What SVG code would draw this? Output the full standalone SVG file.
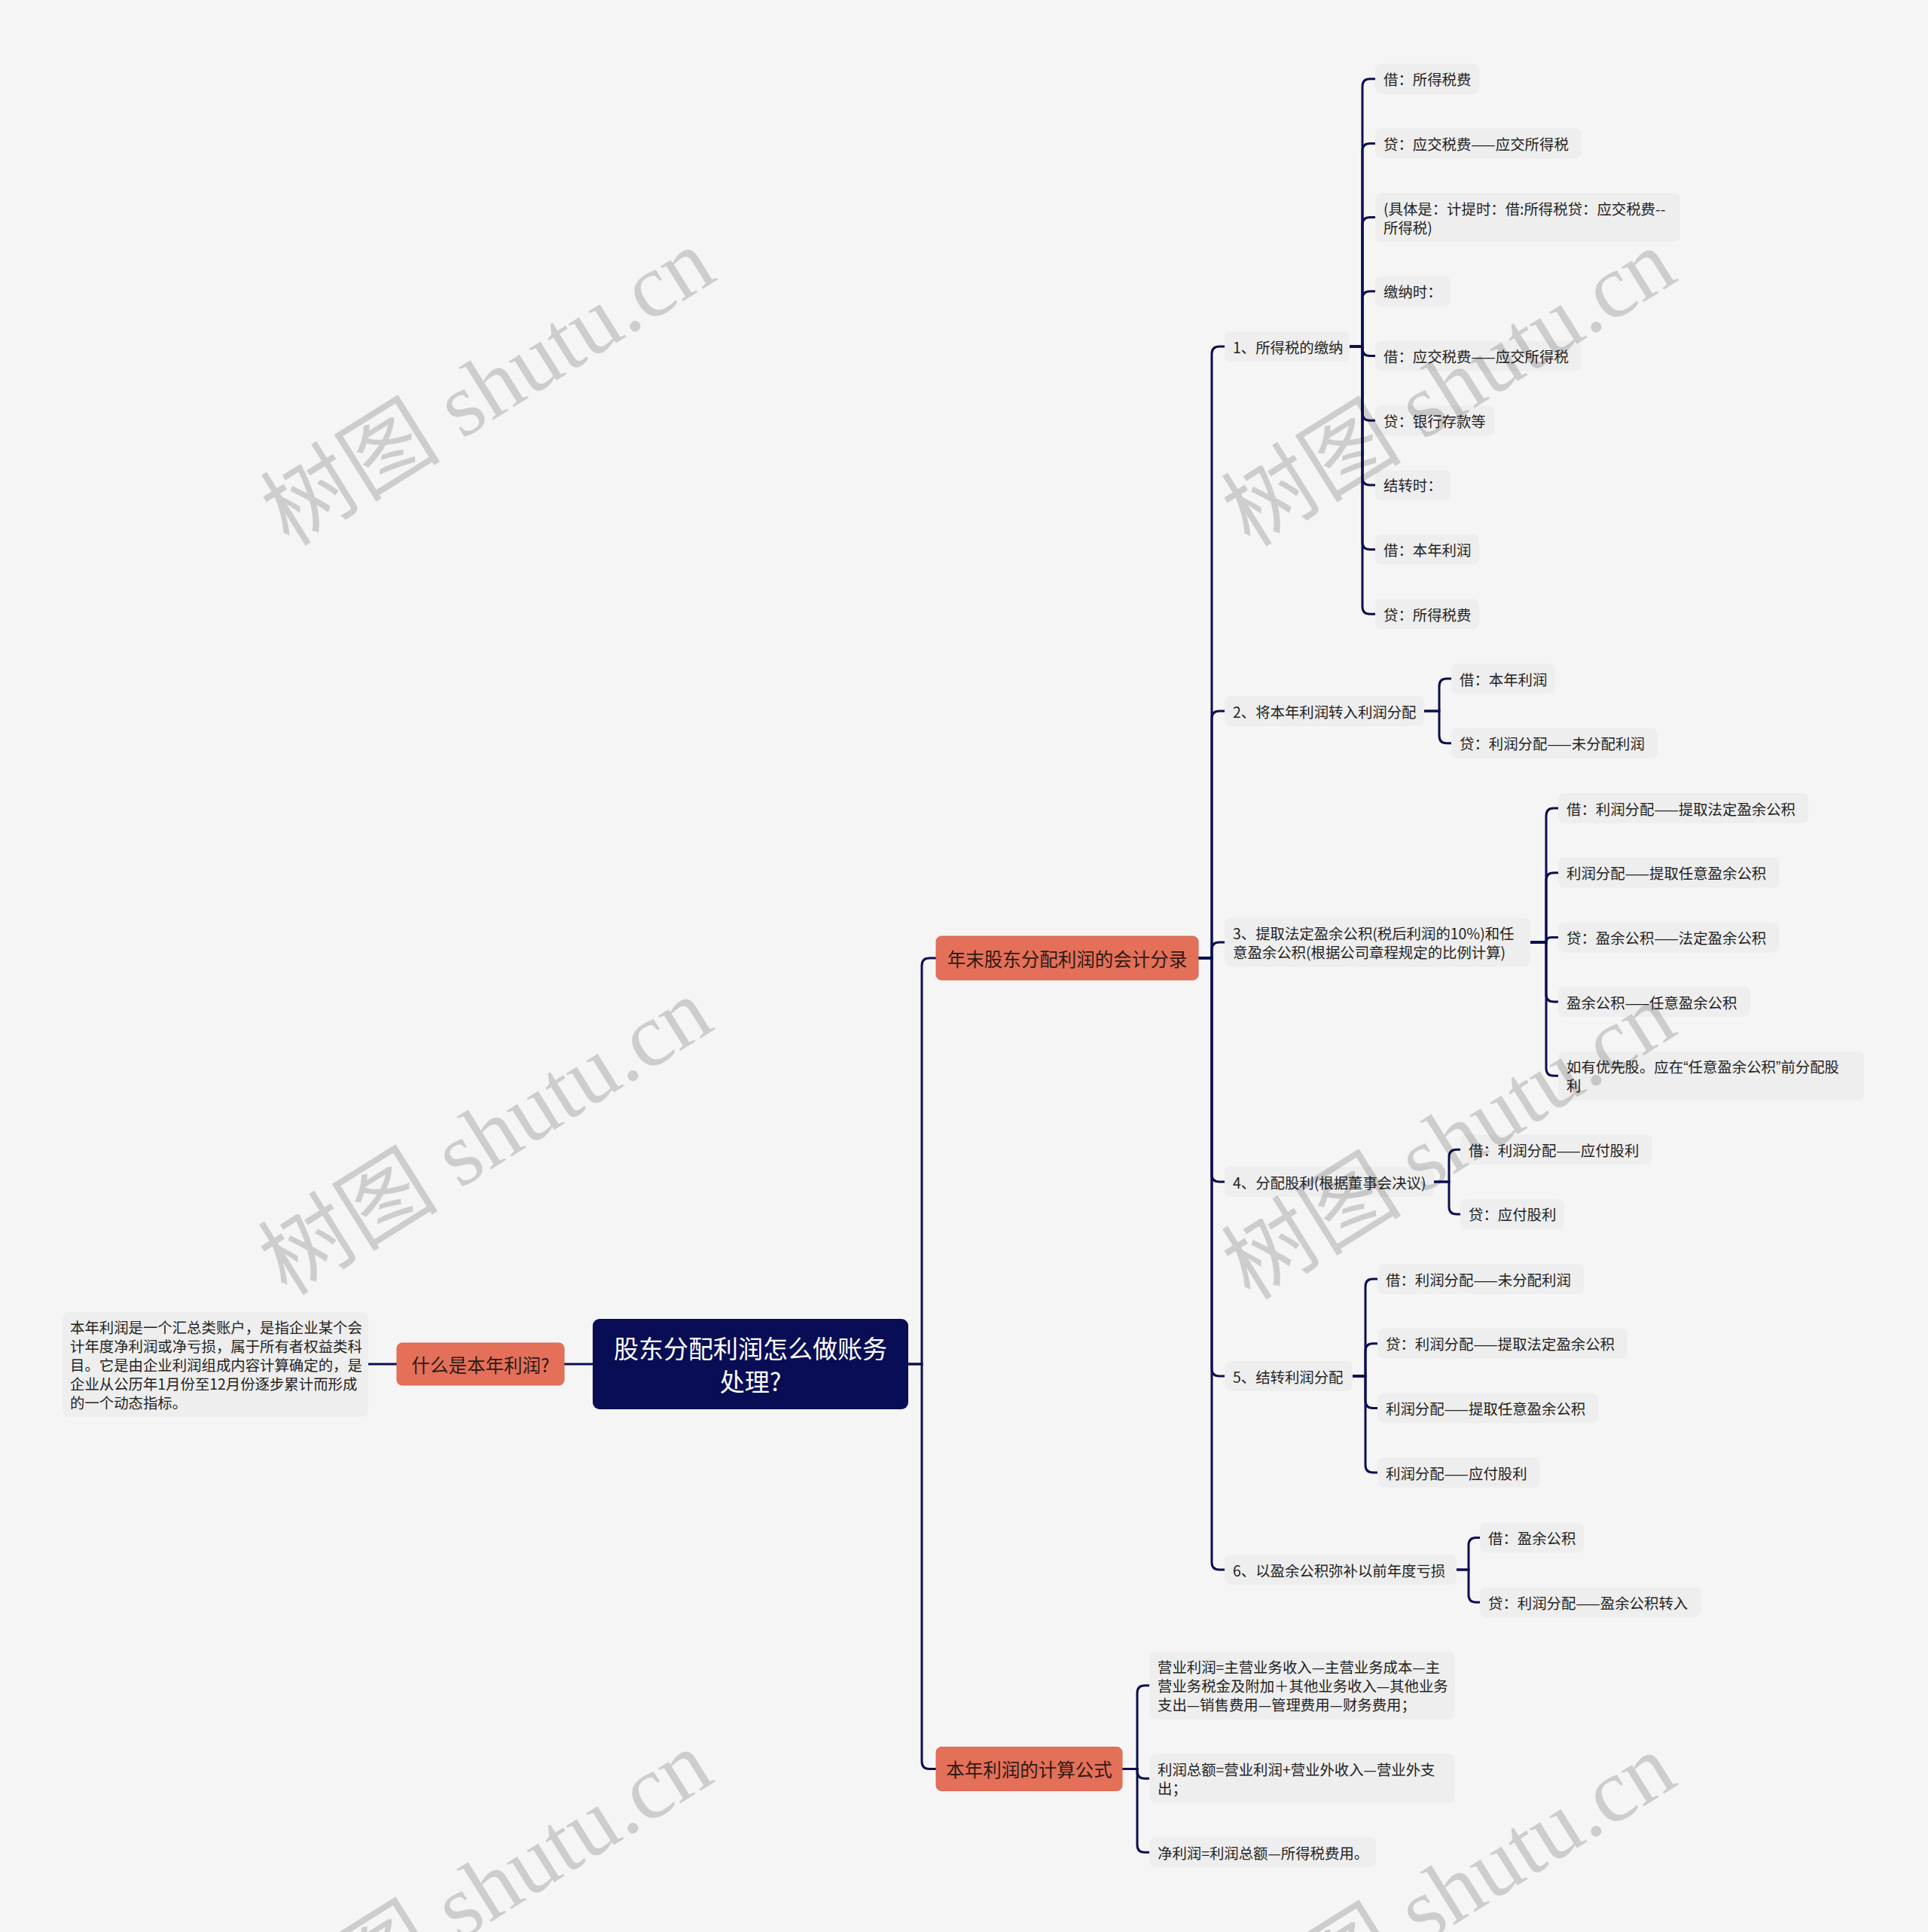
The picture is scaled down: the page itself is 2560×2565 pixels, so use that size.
<svg xmlns="http://www.w3.org/2000/svg" width="2560" height="2565" viewBox="0 0 2560 2565">
<defs>
<style>
.bg{fill:#f5f5f5}
.leaf rect{fill:#eeeeee}
.leaf text,.l2 text{font-family:"Noto Sans CJK SC","Noto Sans",sans-serif;font-size:19.4px;fill:#222222;dominant-baseline:central}
.l2 rect{fill:#eeeeee}
.main rect{fill:#e4705a;stroke:#d8654f;stroke-width:1}
.main text{font-family:"Noto Sans CJK SC","Noto Sans",sans-serif;font-size:24.5px;fill:#2e1a15;dominant-baseline:central;text-anchor:middle}
.root rect{fill:#080d55}
.root text{font-family:"Noto Sans CJK SC","Noto Sans",sans-serif;font-size:33px;fill:#ffffff;dominant-baseline:central;text-anchor:middle}
.c path{fill:none;stroke:#0b0f4f;stroke-width:3;stroke-linecap:round}
.q{font-family:"Liberation Sans",sans-serif}
.wm text{font-family:"Liberation Serif","Noto Sans CJK SC",serif;font-size:120px;fill:#000000;fill-opacity:0.16;text-anchor:middle;dominant-baseline:central}
</style>
</defs>
<rect class="bg" x="0" y="0" width="2560" height="2565"/>

<g id="connectors" class="c">
<path d="M1206,1811 H1224 V1282 Q1224,1272 1234,1272 H1243"/>
<path d="M1206,1811 H1224 V2338.5 Q1224,2348.5 1234,2348.5 H1243"/>
<path d="M787,1811 H749"/>
<path d="M527,1811 H489"/>
<path d="M1591,1272 H1609 V470 Q1609,460 1619,460 H1626"/>
<path d="M1591,1272 H1609 V954 Q1609,944 1619,944 H1626"/>
<path d="M1591,1272 H1609 V1261 Q1609,1251 1619,1251 H1626"/>
<path d="M1591,1272 H1609 V1559 Q1609,1569 1619,1569 H1626"/>
<path d="M1591,1272 H1609 V1817 Q1609,1827 1619,1827 H1626"/>
<path d="M1591,1272 H1609 V2074 Q1609,2084 1619,2084 H1626"/>
<path d="M1792,460 H1809 V114.7 Q1809,104.7 1819,104.7 H1826"/>
<path d="M1792,460 H1809 V200.4 Q1809,190.4 1819,190.4 H1826"/>
<path d="M1792,460 H1809 V298.6 Q1809,288.6 1819,288.6 H1826"/>
<path d="M1792,460 H1809 V396.8 Q1809,386.8 1819,386.8 H1826"/>
<path d="M1792,460 H1809 V462.5 Q1809,472.5 1819,472.5 H1826"/>
<path d="M1792,460 H1809 V548.2 Q1809,558.2 1819,558.2 H1826"/>
<path d="M1792,460 H1809 V633.9 Q1809,643.9 1819,643.9 H1826"/>
<path d="M1792,460 H1809 V719.6 Q1809,729.6 1819,729.6 H1826"/>
<path d="M1792,460 H1809 V805.3 Q1809,815.3 1819,815.3 H1826"/>
<path d="M1891,944 H1911 V911 Q1911,901 1921,901 H1927"/>
<path d="M1891,944 H1911 V976.7 Q1911,986.7 1921,986.7 H1927"/>
<path d="M2032,1251 H2053 V1083 Q2053,1073 2063,1073 H2069"/>
<path d="M2032,1251 H2053 V1168.7 Q2053,1158.7 2063,1158.7 H2069"/>
<path d="M2032,1251 H2053 Q2053,1244.4 2059.6,1244.4 H2069"/>
<path d="M2032,1251 H2053 V1320.1 Q2053,1330.1 2063,1330.1 H2069"/>
<path d="M2032,1251 H2053 V1418.3 Q2053,1428.3 2063,1428.3 H2069"/>
<path d="M1904,1569 H1924 V1536.2 Q1924,1526.2 1934,1526.2 H1939"/>
<path d="M1904,1569 H1924 V1601.9 Q1924,1611.9 1934,1611.9 H1939"/>
<path d="M1796,1827 H1813 V1708 Q1813,1698 1823,1698 H1829"/>
<path d="M1796,1827 H1813 V1793.7 Q1813,1783.7 1823,1783.7 H1829"/>
<path d="M1796,1827 H1813 V1859.4 Q1813,1869.4 1823,1869.4 H1829"/>
<path d="M1796,1827 H1813 V1945.1 Q1813,1955.1 1823,1955.1 H1829"/>
<path d="M1934,2084 H1950 V2051.5 Q1950,2041.5 1960,2041.5 H1965"/>
<path d="M1934,2084 H1950 V2117.2 Q1950,2127.2 1960,2127.2 H1965"/>
<path d="M1490,2348.5 H1510 V2247.8 Q1510,2237.8 1520,2237.8 H1526"/>
<path d="M1490,2348.5 H1510 V2351.3 Q1510,2361.3 1520,2361.3 H1526"/>
<path d="M1490,2348.5 H1510 V2449.2 Q1510,2459.2 1520,2459.2 H1526"/>
</g>

<g id="root" class="root">
<rect x="787" y="1751" width="419" height="120" rx="9"/>
<text x="996.5" y="1789">股东分配利润怎么做账务</text>
<text x="996.5" y="1833">处理?</text>
</g>

<g id="what" class="main">
<rect x="527" y="1783" width="222" height="56" rx="7"/>
<text x="638" y="1811">什么是本年利润?</text>
</g>

<g id="what-desc" class="leaf">
<rect x="83" y="1742" width="406" height="139" rx="8"/>
<text x="93" y="1761">本年利润是一个汇总类账户，是指企业某个会</text>
<text x="93" y="1786">计年度净利润或净亏损，属于所有者权益类科</text>
<text x="93" y="1811">目。它是由企业利润组成内容计算确定的，是</text>
<text x="93" y="1836">企业从公历年1月份至12月份逐步累计而形成</text>
<text x="93" y="1861">的一个动态指标。</text>
</g>

<g id="year-end" class="main">
<rect x="1243" y="1243" width="348" height="58" rx="7"/>
<text x="1417" y="1272">年末股东分配利润的会计分录</text>
</g>

<g id="formula" class="main">
<rect x="1243" y="2319.5" width="247" height="58" rx="7"/>
<text x="1366.5" y="2348.5">本年利润的计算公式</text>
</g>

<g id="n1" class="l2"><rect x="1626" y="440" width="166" height="40" rx="8"/><text x="1637" y="460">1、所得税的缴纳</text></g>
<g id="n2" class="l2"><rect x="1626" y="924" width="265" height="40" rx="8"/><text x="1637" y="944">2、将本年利润转入利润分配</text></g>
<g id="n3" class="l2"><rect x="1626" y="1218.5" width="406" height="65" rx="8"/><text x="1637" y="1238.5">3、提取法定盈余公积(税后利润的10%)和任</text><text x="1637" y="1263.5">意盈余公积(根据公司章程规定的比例计算)</text></g>
<g id="n4" class="l2"><rect x="1626" y="1549" width="278" height="40" rx="8"/><text x="1637" y="1569">4、分配股利(根据董事会决议)</text></g>
<g id="n5" class="l2"><rect x="1626" y="1807" width="170" height="40" rx="8"/><text x="1637" y="1827">5、结转利润分配</text></g>
<g id="n6" class="l2"><rect x="1626" y="2064" width="308" height="40" rx="8"/><text x="1637" y="2084">6、以盈余公积弥补以前年度亏损</text></g>

<g id="n1a" class="leaf"><rect x="1826" y="84.7" width="138" height="40" rx="8"/><text x="1837" y="104.7">借：所得税费</text></g>
<g id="n1b" class="leaf"><rect x="1826" y="170.4" width="274" height="40" rx="8"/><text x="1837" y="190.4">贷：应交税费——应交所得税</text></g>
<g id="n1c" class="leaf"><rect x="1826" y="256.1" width="405" height="65" rx="8"/><text x="1837" y="276.1">(具体是：计提时：借:所得税贷：应交税费--</text><text x="1837" y="301.1">所得税)</text></g>
<g id="n1d" class="leaf"><rect x="1826" y="366.8" width="100" height="40" rx="8"/><text x="1837" y="386.8">缴纳时：</text></g>
<g id="n1e" class="leaf"><rect x="1826" y="452.5" width="274" height="40" rx="8"/><text x="1837" y="472.5">借：应交税费——应交所得税</text></g>
<g id="n1f" class="leaf"><rect x="1826" y="538.2" width="158" height="40" rx="8"/><text x="1837" y="558.2">贷：银行存款等</text></g>
<g id="n1g" class="leaf"><rect x="1826" y="623.9" width="100" height="40" rx="8"/><text x="1837" y="643.9">结转时：</text></g>
<g id="n1h" class="leaf"><rect x="1826" y="709.6" width="138" height="40" rx="8"/><text x="1837" y="729.6">借：本年利润</text></g>
<g id="n1i" class="leaf"><rect x="1826" y="795.3" width="138" height="40" rx="8"/><text x="1837" y="815.3">贷：所得税费</text></g>

<g id="n2a" class="leaf"><rect x="1927" y="881" width="138" height="40" rx="8"/><text x="1938" y="901">借：本年利润</text></g>
<g id="n2b" class="leaf"><rect x="1927" y="966.7" width="274" height="40" rx="8"/><text x="1938" y="986.7">贷：利润分配——未分配利润</text></g>

<g id="n3a" class="leaf"><rect x="2069" y="1053" width="332" height="40" rx="8"/><text x="2080" y="1073">借：利润分配——提取法定盈余公积</text></g>
<g id="n3b" class="leaf"><rect x="2069" y="1138.7" width="294" height="40" rx="8"/><text x="2080" y="1158.7">利润分配——提取任意盈余公积</text></g>
<g id="n3c" class="leaf"><rect x="2069" y="1224.4" width="294" height="40" rx="8"/><text x="2080" y="1244.4">贷：盈余公积——法定盈余公积</text></g>
<g id="n3d" class="leaf"><rect x="2069" y="1310.1" width="255" height="40" rx="8"/><text x="2080" y="1330.1">盈余公积——任意盈余公积</text></g>
<g id="n3e" class="leaf"><rect x="2069" y="1395.8" width="406" height="65" rx="8"/><text x="2080" y="1415.8">如有优先股。应在<tspan class="q">“</tspan>任意盈余公积<tspan class="q">”</tspan>前分配股</text><text x="2080" y="1440.8">利</text></g>

<g id="n4a" class="leaf"><rect x="1939" y="1506.2" width="255" height="40" rx="8"/><text x="1950" y="1526.2">借：利润分配——应付股利</text></g>
<g id="n4b" class="leaf"><rect x="1939" y="1591.9" width="138" height="40" rx="8"/><text x="1950" y="1611.9">贷：应付股利</text></g>

<g id="n5a" class="leaf"><rect x="1829" y="1678" width="274" height="40" rx="8"/><text x="1840" y="1698">借：利润分配——未分配利润</text></g>
<g id="n5b" class="leaf"><rect x="1829" y="1763.7" width="332" height="40" rx="8"/><text x="1840" y="1783.7">贷：利润分配——提取法定盈余公积</text></g>
<g id="n5c" class="leaf"><rect x="1829" y="1849.4" width="294" height="40" rx="8"/><text x="1840" y="1869.4">利润分配——提取任意盈余公积</text></g>
<g id="n5d" class="leaf"><rect x="1829" y="1935.1" width="216" height="40" rx="8"/><text x="1840" y="1955.1">利润分配——应付股利</text></g>

<g id="n6a" class="leaf"><rect x="1965" y="2021.5" width="138" height="40" rx="8"/><text x="1976" y="2041.5">借：盈余公积</text></g>
<g id="n6b" class="leaf"><rect x="1965" y="2107.2" width="294" height="40" rx="8"/><text x="1976" y="2127.2">贷：利润分配——盈余公积转入</text></g>

<g id="f1" class="leaf"><rect x="1526" y="2192.8" width="406" height="90" rx="8"/><text x="1537" y="2212.8">营业利润=主营业务收入—主营业务成本—主</text><text x="1537" y="2237.8">营业务税金及附加＋其他业务收入—其他业务</text><text x="1537" y="2262.8">支出—销售费用—管理费用—财务费用；</text></g>
<g id="f2" class="leaf"><rect x="1526" y="2328.8" width="406" height="65" rx="8"/><text x="1537" y="2348.8">利润总额=营业利润+营业外收入—营业外支</text><text x="1537" y="2373.8">出；</text></g>
<g id="f3" class="leaf"><rect x="1526" y="2439.2" width="301" height="40" rx="8"/><text x="1537" y="2459.2">净利润=利润总额—所得税费用。</text></g>

<g id="watermarks" class="wm">
<text x="648" y="514" transform="rotate(-32 648 514)">树图 shutu.cn</text>
<text x="1924" y="515" transform="rotate(-32 1924 515)">树图 shutu.cn</text>
<text x="645" y="1509" transform="rotate(-32 645 1509)">树图 shutu.cn</text>
<text x="1924" y="1515" transform="rotate(-32 1924 1515)">树图 shutu.cn</text>
<text x="645" y="2508" transform="rotate(-32 645 2508)">树图 shutu.cn</text>
<text x="1924" y="2512" transform="rotate(-32 1924 2512)">树图 shutu.cn</text>
</g>
</svg>
